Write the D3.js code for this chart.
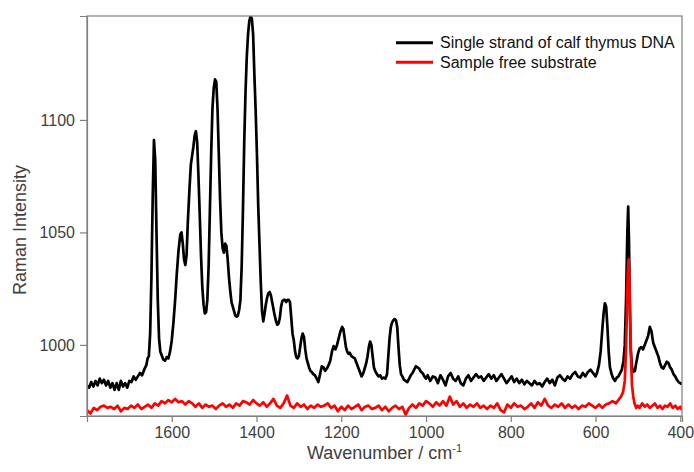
<!DOCTYPE html>
<html><head><meta charset="utf-8">
<script src="https://cdn.jsdelivr.net/npm/d3@7"></script>
<style>
body{margin:0;background:#fff;}
text{font-family:"Liberation Sans",Arial,sans-serif;}
</style></head>
<body><svg id="c" width="694" height="472"></svg>
<script>
// ---------- data ----------
const xTicks = [1600,1400,1200,1000,800,600,400];
const yTicks = [1000,1050,1100];
const seriesNames = ["Single strand of calf thymus DNA","Sample free substrate"];
const seriesColors = ["#000000","#ff0000"];

const dnaWavenumber = [1800,1795,1790,1785,1780,1775,1770,1765,1760,1755,1750,1745,1740,1735,1730,1725,1720,1715,1710,1705,1700,1695,1690,1685,1680,1675,1670,1665,1660,1657,1654,1651,1648,1645,1642,1639,1636,1633,1630,1627,1624,1620,1616,1612,1608,1604,1600,1596,1592,1588,1584,1580,1577,1574,1571,1568,1565,1562,1558,1555,1552,1549,1546,1543,1540,1537,1534,1531,1528,1525,1522,1519,1516,1513,1510,1507,1504,1501,1498,1495,1492,1489,1486,1483,1480,1477,1474,1471,1468,1465,1462,1459,1456,1453,1450,1447,1444,1441,1438,1435,1432,1429,1426,1423,1420,1417,1414,1411,1408,1405,1402,1399,1396,1393,1390,1387,1384,1381,1378,1375,1372,1369,1366,1363,1360,1357,1354,1351,1348,1345,1342,1339,1336,1333,1330,1327,1324,1321,1318,1315,1312,1309,1306,1303,1300,1297,1294,1291,1288,1285,1282,1279,1276,1273,1270,1266,1262,1258,1254,1250,1246,1242,1238,1234,1230,1226,1222,1218,1214,1210,1206,1202,1198,1195,1192,1189,1186,1183,1180,1176,1172,1168,1164,1160,1156,1152,1148,1144,1141,1138,1135,1132,1129,1126,1123,1120,1116,1112,1108,1104,1100,1096,1092,1089,1086,1083,1080,1077,1074,1071,1068,1065,1062,1059,1056,1052,1048,1044,1040,1036,1032,1028,1024,1020,1016,1012,1008,1004,1000,996,990,984,978,972,966,960,954,948,942,936,930,924,918,912,906,900,894,888,882,876,870,864,858,852,846,840,834,828,822,816,810,804,798,792,786,780,774,768,762,756,750,744,738,732,726,720,714,708,702,696,690,684,678,672,666,660,654,648,642,636,630,624,618,612,606,600,596,592,588,584,581,578,575,572,569,566,562,558,554,550,546,542,538,534,531,528,525,523,521,519,517,514,511,507,504,500,496,492,488,484,480,476,472,468,464,460,456,452,448,444,440,436,432,428,424,420,416,412,408,404,400,396];
const dnaIntensity = [982,981,983.5,981.5,984,982,985,983,984.5,982,984,981,983,980,983,980,984,981.5,983,981,984,983.5,986,984.5,986,987.5,986.5,989,991,994,995,1005,1030,1065,1091,1082,1050,1020,1003,997,995.5,993.5,993,994.5,994,997,1002,1010,1020,1032,1042,1049,1050,1045,1038,1035.5,1040,1055,1070,1080,1084,1088,1093,1095,1090,1075,1058,1040,1026,1018,1014,1014.5,1020,1035,1060,1085,1105,1114,1118,1117,1105,1085,1065,1050,1043,1041,1045,1044,1038,1030,1024,1019,1017,1015,1013,1012.5,1013,1015.5,1020,1035,1060,1090,1112,1128,1138,1144,1146,1145,1138,1120,1104,1085,1062,1045,1028,1015,1010.5,1014,1018,1021,1023,1023.5,1022,1019,1016,1013,1010.5,1009,1009.5,1012,1017,1019.5,1020,1020,1019,1020,1020,1019,1012,1005,1002,997,994.5,994,995,999,1003,1005,1003.5,998,994,992,990,988.5,988,987,986.5,985,983.5,987,990.5,990,988.5,989.5,991,993,997,999.5,998,1000,1003,1006,1008,1007,1003,999,997,996,996.5,995,994.5,994,992,990,988,986,987.5,990,992,995,999,1001.5,1000,995,990,988.5,987,986,986.5,985,985.5,985,987,995,1003,1008,1010,1011,1011.5,1011,1008,999,991,987,986,984.5,984,983.5,985,986.5,987.5,989,990.5,990,989.5,988,987.5,986,985,986.5,984,986,985.5,983,986.5,984.5,982,986,987.5,985,984,986,983,982,985,986.5,984,985.5,987,985.5,986,984,985.5,987,985,986.5,984,985.5,987,985,983,984.5,986,983.5,985,983,984.5,982.5,984,983,982,984,982.5,983,981.5,983.5,985,983,984.5,982,985.5,986.5,985,984,986,985,987,988,986,985.5,987.5,986,988,989,987.5,986,988,991,997,1007,1014,1018.5,1017,1008,997,990,987,985,984,985.5,986,987.5,989,993,1000,1020,1050,1061.5,1045,1015,998,990,988,988.5,992,996,998.5,999,998,1000,1002,1004,1008,1006,1001,999,997,995,992,990,989.5,991,992.5,992,990,989,987,986,984.5,983.5,983,982.5];

const subWavenumber = [1800,1792,1784,1776,1768,1760,1752,1744,1736,1728,1720,1712,1704,1696,1688,1680,1672,1664,1656,1648,1640,1632,1624,1616,1608,1600,1592,1584,1576,1568,1560,1552,1544,1536,1528,1520,1512,1504,1496,1488,1480,1472,1464,1456,1448,1440,1432,1424,1416,1408,1400,1392,1384,1376,1368,1360,1352,1344,1336,1328,1320,1312,1304,1296,1288,1280,1272,1264,1256,1248,1240,1232,1224,1216,1208,1200,1192,1184,1176,1168,1160,1152,1144,1136,1128,1120,1112,1104,1096,1088,1080,1072,1064,1056,1048,1040,1032,1024,1016,1008,1000,992,984,976,968,960,952,944,936,928,920,912,904,896,888,880,872,864,856,848,840,832,824,816,808,800,792,784,776,768,760,752,744,736,728,720,712,704,696,688,680,672,664,656,648,640,632,624,616,608,600,592,584,576,568,560,552,546,540,535,531,528,526,524,522,520,518,516,514,511,508,504,500,496,490,484,478,472,466,460,454,448,442,436,430,424,418,412,406,400,396];
const subIntensity = [971,969.5,972,971,972.5,973,972,972.5,971.5,973,970.5,972,971.5,973,972,973.5,971.5,972.5,973.5,972,974,973,975,974,975.5,974.5,976,974.5,975,973.5,975,974,972.5,974,972,973.5,972.5,973,971.5,973,974,972.5,973.5,972,974,973,975,974.5,973.5,975.5,974,973,974.5,972.5,974,976,973,972,974,977.5,973,972,974,972.5,973.5,971.5,973,972,973.5,972.5,973,974,972,973,970.5,972.5,971,973,971.5,972.5,973.5,971,972.5,973,971.5,972,973,971,972.5,970.5,972,973,971.5,972.5,969,972,973.5,972,974,973,975,974,972.5,974.5,973,975,973,977,973.5,975,972.5,974,972,973.5,972.5,974,972,973,971.5,973,972,974,971,970,973.5,972,974,972.5,973,971.5,972.5,974,972,974.5,973,976,973,972,973.5,972.5,974,972,973.5,972,973,971.5,973,972.5,974,973,972,973.5,972,973.5,974,975,974,975.5,977,979,984,998,1015,1032,1038,1030,1010,992,982,977,974,972,973,972,974,972.5,973.5,972,973,974,972,973,971.5,973,972.5,974,972,973,971.5,972.5,971];

// ---------- chart ----------
const svg = d3.select("#c");
const m = {left:87, right:682, top:16, bottom:416};
const x = d3.scaleLinear().domain([1800,396]).range([m.left,m.right]);
const y = d3.scaleLinear().domain([968.4,1146.2]).range([m.bottom,m.top]);

const axisColor = "#7f7f7f", textColor = "#404040";

const line = d3.line().x(d=>x(d[0])).y(d=>y(d[1])).curve(d3.curveLinear);
svg.append("clipPath").attr("id","clip").append("rect")
  .attr("x",m.left).attr("y",m.top).attr("width",m.right-m.left).attr("height",m.bottom-m.top);

const series = [d3.zip(dnaWavenumber,dnaIntensity), d3.zip(subWavenumber,subIntensity)];
const g = svg.append("g").attr("clip-path","url(#clip)");
series.forEach((s,i)=>{
  g.append("path").datum(s).attr("d",line).attr("fill","none")
   .attr("stroke",seriesColors[i]).attr("stroke-width",2.7).attr("stroke-linejoin","round");
});

// frame
svg.append("rect").attr("x",m.left).attr("y",m.top).attr("width",m.right-m.left)
  .attr("height",m.bottom-m.top).attr("fill","none").attr("stroke",axisColor).attr("stroke-width",1.2);

const xa = svg.append("g").attr("transform",`translate(0,${m.bottom})`)
  .call(d3.axisBottom(x).tickValues(xTicks).tickSize(6).tickPadding(5).tickFormat(d3.format("d")));
const ya = svg.append("g").attr("transform",`translate(${m.left},0)`)
  .call(d3.axisLeft(y).tickValues(yTicks).tickSize(7).tickPadding(5).tickFormat(d3.format("d")));
[xa,ya].forEach(a=>{
  a.select(".domain").attr("stroke",axisColor).attr("stroke-width",1.2);
  a.selectAll(".tick line").attr("stroke",axisColor).attr("stroke-width",1.2);
  a.selectAll(".tick text").attr("fill",textColor).style("font-size","16px")
   .style("font-family",'"Liberation Sans",Arial,sans-serif');
});

// axis titles
const xt = svg.append("text").attr("x",(m.left+m.right)/2).attr("y",459)
  .attr("text-anchor","middle").attr("fill",textColor).style("font-size","18px");
xt.append("tspan").text("Wavenumber / cm");
xt.append("tspan").text("-1").attr("dy",-7).style("font-size","11px");

svg.append("text").attr("transform","translate(26,230) rotate(-90)")
  .attr("text-anchor","middle").attr("fill",textColor).style("font-size","18px")
  .text("Raman Intensity");

// legend
const leg = svg.append("g");
seriesNames.forEach((n,i)=>{
  const yy = 42.7 + i*19.5;
  leg.append("line").attr("x1",396).attr("x2",433).attr("y1",yy).attr("y2",yy)
    .attr("stroke",seriesColors[i]).attr("stroke-width",3);
  leg.append("text").attr("x",440).attr("y",yy).attr("dy","0.35em")
    .attr("fill","#111").style("font-size","16px").text(n);
});
</script></body></html>
